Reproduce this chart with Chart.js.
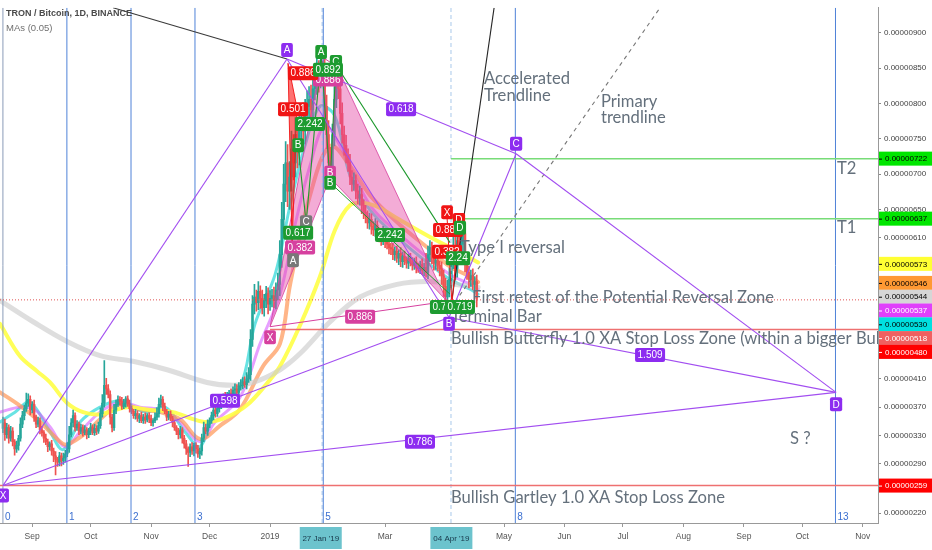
<!DOCTYPE html>
<html>
<head>
<meta charset="utf-8">
<script src="https://cdn.jsdelivr.net/npm/chart.js@4.4.1/dist/chart.umd.min.js"></script>
<style>
  html, body { margin: 0; padding: 0; background: #fff; overflow: hidden; }
  #wrap { width: 932px; height: 550px; position: relative; }
</style>
</head>
<body>
<div id="wrap"><canvas id="chart" width="932" height="550"></canvas></div>
<script>
// prices are in units of 1e-8 BTC, x is days counted from 2019-01-01
const firstDay = -137;
const firstOpen = 340;

const closes = [
  348, 331, 341, 326, 336, 321, 311, 316, 326, 346,
  358, 368, 376, 381, 366, 374, 356, 346, 351, 338,
  334, 326, 321, 314, 318, 308, 301, 296, 292, 301,
  294, 298, 304, 311, 331, 348, 358, 341, 346, 336,
  341, 334, 338, 331, 336, 342, 334, 340, 336, 344,
  361, 376, 401, 396, 388, 356, 341, 366, 374, 381,
  378, 371, 376, 382, 375, 368, 364, 358, 361, 354,
  358, 351, 356, 352, 358, 354, 348, 351, 356, 361,
  374, 381, 371, 364, 356, 360, 354, 348, 341, 336,
  331, 338, 326, 318, 311, 306, 314, 308, 316, 311,
  304, 308, 326, 341, 336, 346, 351, 358, 366, 361,
  368, 374, 378, 384, 376, 386, 390, 388, 394, 396,
  391, 400, 401, 406, 402, 410, 416, 466, 516, 526,
  518, 534, 524, 511, 521, 531, 516, 524, 528, 521,
  536, 544, 586, 636, 686, 716, 676, 696, 736, 716,
  756, 731, 766, 776, 761, 786, 796, 806, 791, 821,
  831, 846, 836, 861, 851, 796, 756, 716, 696, 756,
  806, 836, 821, 786, 756, 741, 726, 716, 696, 686,
  691, 676, 666, 671, 656, 646, 641, 631, 636, 626,
  621, 628, 616, 611, 608, 616, 606, 601, 596, 594,
  586, 591, 581, 588, 576, 584, 578, 574, 581, 576,
  571, 576, 568, 566, 572, 564, 568, 561, 586, 596,
  581, 574, 578, 571, 566, 556, 541, 526, 536, 551,
  576, 596, 566, 606, 591, 601, 616, 576, 561, 551,
  556, 544, 548, 524,
];

const upperWick = [
  8, 5, 6, 4, 7, 5, 3, 6, 4, 9,
  6, 5, 14, 8, 5, 4, 6, 3, 5, 4,
  5, 3, 6, 4, 3, 5, 4, 6, 3, 5,
  4, 7, 5, 9, 12, 6, 8, 4, 5, 3,
  5, 4, 6, 3, 4, 5, 3, 6, 4, 5,
  8, 12, 35, 10, 6, 5, 4, 8, 6, 5,
  4, 6, 5, 3, 4, 5, 4, 3, 6, 4,
  3, 5, 4, 6, 3, 4, 5, 3, 6, 8,
  9, 6, 4, 5, 3, 4, 5, 3, 4, 3,
  4, 5, 3, 4, 5, 3, 4, 6, 3, 4,
  5, 4, 6, 8, 5, 6, 4, 5, 6, 4,
  5, 6, 4, 5, 7, 5, 4, 6, 5, 7,
  6, 5, 8, 6, 7, 9, 10, 14, 12, 18,
  10, 14, 8, 12, 9, 10, 8, 11, 9, 12,
  10, 16, 20, 24, 28, 30, 26, 22, 25, 20,
  24, 20, 22, 18, 25, 20, 22, 18, 20, 16,
  18, 22, 15, 12, 20, 18, 16, 20, 22, 15,
  18, 14, 16, 20, 15, 12, 14, 10, 12, 9,
  11, 8, 10, 12, 9, 8, 10, 7, 9, 8,
  7, 9, 6, 8, 7, 10, 6, 8, 7, 6,
  8, 6, 7, 5, 8, 6, 7, 5, 6, 7,
  6, 5, 7, 6, 5, 8, 6, 20, 12, 10,
  8, 9, 7, 8, 6, 10, 8, 12, 14, 16,
  18, 22, 15, 20, 16, 14, 18, 12, 10, 9,
  8, 10, 7, 9,
];

const lowerWick = [
  6, 8, 5, 7, 4, 6, 9, 5, 7, 4,
  5, 6, 4, 5, 7, 4, 6, 5, 4, 6,
  5, 6, 4, 7, 5, 6, 8, 22, 6, 5,
  7, 5, 6, 4, 5, 3, 6, 5, 4, 5,
  4, 5, 3, 6, 4, 5, 3, 4, 5, 3,
  4, 5, 6, 8, 5, 10, 6, 4, 5, 3,
  5, 4, 3, 6, 4, 5, 3, 4, 5, 4,
  6, 3, 4, 5, 3, 6, 4, 5, 3, 4,
  5, 4, 6, 3, 5, 4, 3, 6, 4, 5,
  6, 5, 7, 6, 8, 20, 6, 5, 7, 6,
  5, 7, 6, 5, 4, 6, 5, 4, 6, 5,
  4, 5, 6, 4, 5, 6, 4, 5, 4, 6,
  5, 4, 6, 5, 4, 6, 5, 8, 10, 14,
  12, 10, 14, 9, 12, 10, 14, 9, 12, 10,
  12, 14, 16, 18, 20, 25, 22, 26, 20, 24,
  20, 22, 18, 24, 20, 18, 22, 16, 18, 20,
  16, 18, 20, 14, 18, 22, 20, 18, 16, 14,
  16, 12, 14, 15, 12, 14, 10, 12, 11, 10,
  9, 11, 8, 10, 12, 9, 10, 8, 9, 11,
  8, 9, 10, 7, 9, 8, 10, 7, 9, 8,
  7, 8, 6, 9, 7, 8, 6, 7, 8, 6,
  7, 6, 8, 5, 7, 6, 8, 7, 9, 10,
  8, 10, 9, 8, 10, 12, 14, 10, 12, 10,
  14, 10, 16, 12, 14, 10, 12, 14, 10, 12,
  10, 8, 9, 12,
];

// moving averages as [day, value]
const maYellow = [
  [-138.5, 488], [-128.2, 442], [-119.5, 421], [-112.8, 405], [-104.1, 376],
  [-95.9, 363], [-87.2, 360], [-73.3, 370], [-61.5, 366], [-49.7, 363],
  [-39.5, 353], [-32.3, 349], [-22.1, 356], [-11.8, 373], [-1.5, 404],
  [5.1, 428], [15.4, 486], [25.6, 555], [33.3, 621], [41, 656],
  [48.7, 659], [56.4, 652], [66.7, 635], [82, 611], [97.4, 589], [106.7, 575],
];
const maGray = [
  [-138.5, 521], [-121.5, 491], [-104.1, 463], [-87.2, 443], [-70.3, 435],
  [-52.8, 423], [-32.3, 405], [-19, 401], [-8.7, 405], [5.1, 423], [15.4, 446],
  [30.8, 491], [46.2, 526], [65.1, 544], [82, 548], [97.4, 543], [106.7, 540],
];
const maOrange = [
  [-138.5, 391], [-128.2, 372], [-117.9, 349], [-107.7, 321], [-104.1, 317],
  [-93.8, 335], [-87.2, 353], [-76.9, 374], [-66.7, 367], [-56.4, 363],
  [-46.2, 353], [-35.9, 325], [-25.6, 344], [-15.4, 367], [-3.6, 428],
  [5.1, 460], [10.3, 544], [20.5, 670], [30.8, 740], [41, 712],
  [51.3, 670], [66.7, 628], [82, 593], [92.3, 569], [102.6, 555], [106.7, 547],
];
const maViolet = [
  [-138.5, 363], [-128.2, 370], [-120.5, 366], [-112.8, 342], [-105.1, 314],
  [-97.4, 335], [-87.2, 363], [-76.9, 377], [-66.7, 370], [-56.4, 366],
  [-46.2, 349], [-35.9, 321], [-28.2, 349], [-15.4, 384], [-5.1, 460],
  [5.1, 530], [12.8, 628], [20.5, 712], [28.2, 768], [38.5, 726],
  [51.3, 656], [66.7, 614], [82, 579], [92.3, 558], [102.6, 544], [106.7, 537],
];
const maCyan = [
  [-138.5, 349], [-130.8, 363], [-123.1, 377], [-112.8, 335], [-106.2, 310],
  [-97.4, 349], [-87.2, 370], [-76.9, 379], [-64.1, 363], [-53.8, 370],
  [-43.6, 335], [-35.9, 314], [-28.2, 363], [-15.4, 398], [-7.7, 488],
  [2.6, 558], [10.3, 656], [17.9, 740], [25.6, 796], [33.3, 782],
  [41, 698], [51.3, 649], [66.7, 607], [82, 572], [92.3, 551], [102.6, 537], [106.7, 530],
];

// axes
const xMin = -138.5;
const xMax = 311.8;
const yMin = 206;
const yMax = 935.6;
const monthTicks = [-122, -92, -61, -31, 0, 59, 120, 151, 181, 212, 243, 273, 304];
const monthLabels = ["Sep", "Oct", "Nov", "Dec", "2019", "Mar", "May", "Jun", "Jul", "Aug", "Sep", "Oct", "Nov"];
const dateTags = [[26, "27 Jan '19"], [93, "04 Apr '19"]];
const yTicks = [900, 850, 800, 750, 700, 650, 610, 410, 370, 330, 290, 220];

// fibonacci time zones
const fibDays = [-137, -104.2, -71.3, -38.5, 27.3, 125.8, 290];
const fibNumbers = ["0", "1", "2", "3", "5", "8", "13"];
const markerDays = [26.7, 92.8];

// drawn levels [value, fromDay]
const targetLevels = [[722, 92.8], [637, 92.8]];
const stopLevels = [[480, 0], [259, -138.5]];
const lastPriceLevel = 522;

// right axis tags [value, background, text]
const priceTags = [
  [722, "#00e600", "#000"], [637, "#00e600", "#000"], [573, "#ffff33", "#000"],
  [546, "#ff9933", "#000"], [544, "#d6d6d6", "#000"], [537, "#e040fb", "#fff"],
  [530, "#00e0e0", "#000"], [518, "#f06060", "#fff"], [480, "#ff0000", "#fff"],
  [259, "#ff0000", "#fff"],
];

// big XABCD pattern
const pX = [-137, 259];
const pA = [8.7, 863];
const pB = [91.8, 497];
const pC = [126.2, 729];
const pD = [290.3, 391];

// butterfly pattern
const bX = [0, 484];
const bA = [26.7, 866];
const bB = [30.8, 695];
const bC = [34.4, 852];
const bD = [90.8, 520];

const redWedge = [[9.2, 857], [13.8, 794], [11.3, 599]];
const greenPath = [[14.4, 740], [18.5, 631], [26.2, 869], [30.8, 688], [33.8, 855], [92.3, 603]];
const greenLeg = [[30.8, 688], [92.3, 530]];
const redLegs = [[[90.8, 638], [93.3, 516]], [[96.9, 628], [93.3, 516]]];
const darkLine = [[-80.5, 935.6], [8.7, 863]];
const acceleratedLine = [[93.3, 523], [114.9, 935.6]];
const primaryLine = [[94.9, 519], [200, 935.6]];

const purpleLabels = [
  ["A", 8.7, 876], ["B", 91.8, 488], ["C", 126.2, 743], ["D", 290.3, 374], ["X", -136.9, 245],
  ["0.618", 67.2, 792], ["1.509", 194.9, 444], ["0.786", 76.9, 321], ["0.598", -23.1, 379],
];
const pinkLabels = [["X", 0, 469], ["0.886", 46.2, 498], ["0.382", 15.4, 596], ["0.886", 29.7, 834], ["B", 30.8, 702]];
const redLabels = [
  ["0.886", 16.9, 843], ["0.501", 11.8, 792], ["X", 90.8, 646], ["D", 96.9, 635],
  ["0.886", 91.3, 621], ["0.382", 90.8, 590],
];
const grayLabels = [["A", 11.8, 578], ["C", 18.5, 632]];
const greenLabels = [
  ["A", 26.2, 873], ["C", 33.8, 859], ["0.892", 29.7, 848], ["2.242", 20.5, 771], ["B", 14.4, 741],
  ["B", 30.8, 688], ["0.617", 14.4, 617], ["2.242", 61.5, 614], ["D", 97.4, 624], ["2.24", 96.4, 581],
  ["0.719", 89.7, 512], ["0.719", 97.4, 512],
];

const notes = [
  [109.7, 835, "Accelerated"], [109.7, 811, "Trendline"],
  [169.7, 803, "Primary"], [169.7, 780, "trendline"],
  [97.4, 596, "Type I reversal"],
  [103.6, 525, "First retest of the Potential Reversal Zone"],
  [92.8, 498, "Terminal Bar"],
  [92.8, 467, "Bullish Butterfly 1.0 XA Stop Loss Zone (within a bigger Bullish Gartley)"],
  [92.8, 242, "Bullish Gartley 1.0 XA Stop Loss Zone"],
  [266.7, 325, "S ?"],
  [290.8, 708, "T2"], [290.8, 624, "T1"],
];

const FONT = '"Liberation Sans", Arial, sans-serif';
const UP = "#26a69a";
const DOWN = "#ef5350";
const PURPLE = "#a24ef0";

function pts(list) {
  return list.map((p) => ({ x: p[0], y: p[1] }));
}

function lineSet(list, color, width, extra = {}) {
  return {
    type: "line",
    data: pts(list),
    borderColor: color,
    borderWidth: width,
    pointRadius: 0,
    fill: false,
    tension: 0,
    order: 20,
    ...extra,
  };
}

function maSet(list, color, width) {
  return lineSet(list, color, width, { tension: 0.35, order: 100, borderCapStyle: "round" });
}

const wicks = [];
const bodies = [];
const candleColors = [];
let prevClose = firstOpen;
for (let i = 0; i < closes.length; i += 1) {
  const o = prevClose;
  const c = closes[i];
  const hi = Math.max(o, c) + (upperWick[i] || 0);
  const lo = Math.min(o, c) - (lowerWick[i] || 0);
  const x = firstDay + i;
  wicks.push({ x, y: [lo, hi] });
  bodies.push({ x, y: [o, c === o ? c + 0.8 : c] });
  candleColors.push(c >= o ? UP : DOWN);
  prevClose = c;
}

const datasets = [
  maSet(maGray, "rgba(205,205,205,0.65)", 5),
  maSet(maYellow, "rgba(255,255,70,0.9)", 4),
  maSet(maOrange, "rgba(255,150,85,0.7)", 4),
  maSet(maViolet, "rgba(215,95,255,0.6)", 3),
  maSet(maCyan, "rgba(40,215,215,0.7)", 3),
  {
    type: "bar", data: wicks, backgroundColor: candleColors, barThickness: 1,
    grouped: false, order: 60,
  },
  {
    type: "bar", data: bodies, backgroundColor: candleColors, barThickness: 1.8,
    grouped: false, order: 50, id: "bodies",
  },
];

fibDays.forEach((d, i) => datasets.push(lineSet([[d, yMin], [d, yMax]], i === 0 ? "#8a9bb8" : "#4f82d8", 1, { order: 40 })));
markerDays.forEach((d) => datasets.push(lineSet([[d, yMin], [d, yMax]], "#a8c8ea", 1, { order: 41, borderDash: [4, 3] })));
targetLevels.forEach(([v, d]) => datasets.push(lineSet([[d, v], [xMax, v]], "#78dc78", 1.5, { order: 30 })));
stopLevels.forEach(([v, d]) => datasets.push(lineSet([[d, v], [xMax, v]], "#ee7070", 1.5, { order: 30 })));
datasets.push(lineSet([[xMin, lastPriceLevel], [xMax, lastPriceLevel]], "#e05050", 1, { order: 30, borderDash: [1, 2] }));

[[pX, pA], [pA, pB], [pB, pC], [pC, pD], [pX, pB], [pA, pC], [pB, pD], [pX, pD]].forEach((seg) =>
  datasets.push(lineSet(seg, PURPLE, 1.1)));
[[bX, bD], [bA, bC]].forEach((seg) => datasets.push(lineSet(seg, "#d6409f", 1)));
datasets.push(lineSet(greenPath, "#1f9a2f", 1.1));
datasets.push(lineSet(greenLeg, "#1f9a2f", 1));
redLegs.forEach((seg) => datasets.push(lineSet(seg, "#f01818", 1)));
datasets.push(lineSet(darkLine, "#3a3a3a", 1.1));
datasets.push(lineSet(acceleratedLine, "#262626", 1.1));
datasets.push(lineSet(primaryLine, "#777", 1.1, { borderDash: [4, 4] }));

function px(chart, p) {
  return [chart.scales.x.getPixelForValue(p[0]), chart.scales.y.getPixelForValue(p[1])];
}

function polygon(chart, list, fill, stroke) {
  const ctx = chart.ctx;
  ctx.beginPath();
  list.forEach((p, i) => {
    const [x, y] = px(chart, p);
    if (i === 0) ctx.moveTo(x, y);
    else ctx.lineTo(x, y);
  });
  ctx.closePath();
  ctx.fillStyle = fill;
  ctx.fill();
  if (stroke) {
    ctx.strokeStyle = stroke;
    ctx.lineWidth = 1;
    ctx.stroke();
  }
}

function box(ctx, x, y, text, bg, fg) {
  ctx.font = `10px ${FONT}`;
  const w = Math.max(ctx.measureText(text).width + 5, 11);
  const h = 14;
  ctx.fillStyle = bg;
  ctx.beginPath();
  if (ctx.roundRect) ctx.roundRect(x - w / 2, y - h / 2, w, h, 2);
  else ctx.rect(x - w / 2, y - h / 2, w, h);
  ctx.fill();
  ctx.fillStyle = fg;
  ctx.textAlign = "center";
  ctx.textBaseline = "middle";
  ctx.fillText(text, x, y + 0.5);
}

const overlay = {
  id: "overlay",
  afterDatasetDraw(chart, args) {
    if (chart.data.datasets[args.index].id !== "bodies") return;
    const { ctx, chartArea } = chart;
    ctx.save();
    ctx.beginPath();
    ctx.rect(chartArea.left, chartArea.top, chartArea.width, chartArea.height);
    ctx.clip();
    polygon(chart, [bX, bA, bB], "rgba(228,70,165,0.45)", "rgba(214,64,159,0.8)");
    polygon(chart, [bB, bC, bD], "rgba(228,70,165,0.45)", "rgba(214,64,159,0.8)");
    polygon(chart, redWedge, "rgba(255,20,20,0.6)", "rgba(240,20,20,0.9)");
    ctx.restore();
  },
  afterDatasetsDraw(chart) {
    const { ctx, chartArea } = chart;
    const xs = chart.scales.x;
    const ys = chart.scales.y;
    ctx.save();
    ctx.beginPath();
    ctx.rect(chartArea.left, chartArea.top, chartArea.width, chartArea.height);
    ctx.clip();

    ctx.font = `10px ${FONT}`;
    ctx.fillStyle = "#3b6fd0";
    ctx.textAlign = "left";
    ctx.textBaseline = "bottom";
    fibDays.forEach((d, i) => ctx.fillText(fibNumbers[i], xs.getPixelForValue(d) + 2, chartArea.bottom - 1));

    ctx.font = `16.6px Lato, ${FONT}`;
    ctx.fillStyle = "#64707c";
    ctx.textBaseline = "middle";
    notes.forEach(([d, v, t]) => ctx.fillText(t, xs.getPixelForValue(d), ys.getPixelForValue(v)));

    const groups = [
      [pinkLabels, "#d6409f", "#fff"],
      [redLabels, "#f01414", "#fff"],
      [grayLabels, "#787878", "#fff"],
      [greenLabels, "#1d9b30", "#fff"],
      [purpleLabels, "#8d2cf0", "#fff"],
    ];
    groups.forEach(([list, bg, fg]) => {
      list.forEach(([t, d, v]) => box(ctx, xs.getPixelForValue(d), ys.getPixelForValue(v), t, bg, fg));
    });

    ctx.textAlign = "left";
    ctx.textBaseline = "middle";
    ctx.font = `bold 9px ${FONT}`;
    ctx.fillStyle = "#4a4a4a";
    ctx.fillText("TRON / Bitcoin, 1D, BINANCE", 6, 14);
    ctx.font = `9.5px ${FONT}`;
    ctx.fillStyle = "#707070";
    ctx.fillText("MAs (0.05)", 6, 28);
    ctx.restore();
  },
  afterDraw(chart) {
    const { ctx, chartArea } = chart;
    const xs = chart.scales.x;
    const ys = chart.scales.y;
    ctx.save();
    const sorted = priceTags.slice().sort((a, b) => b[0] - a[0]);
    let lastY = -Infinity;
    ctx.font = `8px ${FONT}`;
    ctx.textAlign = "left";
    ctx.textBaseline = "middle";
    sorted.forEach(([v, bg, fg]) => {
      let y = ys.getPixelForValue(v);
      if (y < lastY + 13.8) y = lastY + 13.8;
      lastY = y;
      ctx.fillStyle = bg;
      ctx.fillRect(chartArea.right + 1, y - 7, 60, 14);
      ctx.strokeStyle = fg;
      ctx.lineWidth = 1;
      ctx.beginPath();
      ctx.moveTo(chartArea.right + 1, y + 0.5);
      ctx.lineTo(chartArea.right + 4, y + 0.5);
      ctx.stroke();
      ctx.fillStyle = fg;
      ctx.fillText((v / 1e8).toFixed(8), chartArea.right + 7, y + 0.5);
    });

    ctx.textAlign = "center";
    dateTags.forEach(([d, t]) => {
      const x = xs.getPixelForValue(d);
      ctx.fillStyle = "#6cc3cd";
      ctx.fillRect(x - 21, chartArea.bottom + 4, 42, 22);
      ctx.fillStyle = "#17384a";
      ctx.fillText(t, x, chartArea.bottom + 15.5);
    });
    ctx.restore();
  },
};

new Chart(document.getElementById("chart"), {
  type: "bar",
  data: { datasets },
  plugins: [overlay],
  options: {
    responsive: false,
    animation: false,
    devicePixelRatio: 1,
    layout: { padding: 0 },
    plugins: { legend: { display: false }, tooltip: { enabled: false } },
    scales: {
      x: {
        type: "linear",
        min: xMin,
        max: xMax,
        offset: false,
        afterBuildTicks: (s) => { s.ticks = monthTicks.map((v) => ({ value: v })); },
        afterFit: (s) => { s.height = 27; },
        ticks: {
          autoSkip: false,
          maxRotation: 0,
          padding: 5,
          color: "#555",
          font: { size: 8.5, family: FONT },
          callback: (v, i) => monthLabels[i],
        },
        grid: { drawOnChartArea: false, tickLength: 4, color: "#999", offset: false },
        border: { color: "#999" },
      },
      y: {
        type: "linear",
        position: "right",
        min: yMin,
        max: yMax,
        afterBuildTicks: (s) => { s.ticks = yTicks.map((v) => ({ value: v })); },
        afterFit: (s) => { s.width = 54; },
        ticks: {
          autoSkip: false,
          padding: 3,
          color: "#444",
          font: { size: 8, family: FONT },
          callback: (v) => (v / 1e8).toFixed(8),
        },
        grid: { drawOnChartArea: false, tickLength: 3, color: "#888" },
        border: { color: "#999" },
      },
    },
  },
});
</script>
</body>
</html>
